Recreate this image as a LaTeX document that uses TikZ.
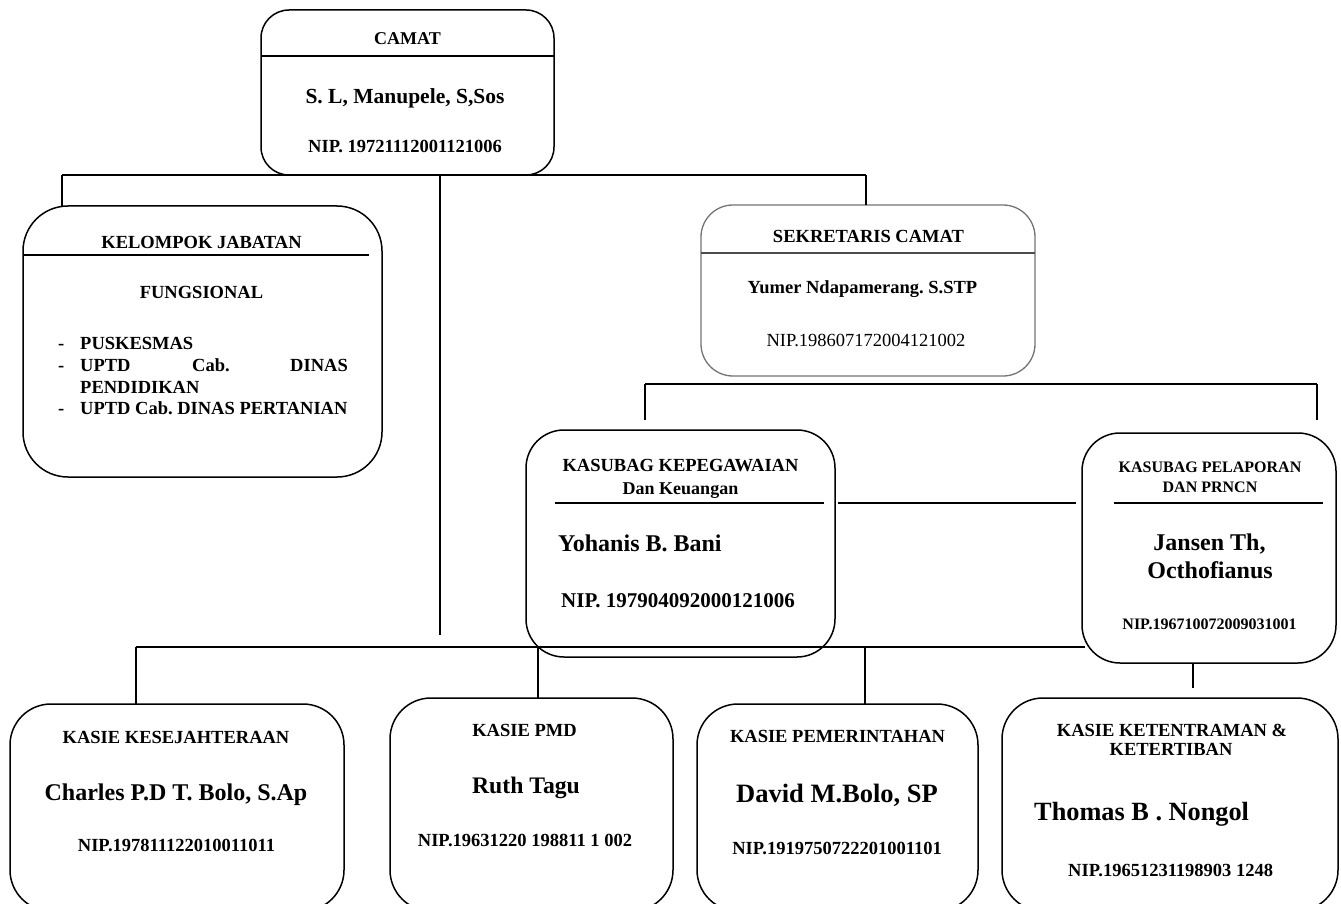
\documentclass[tikz,border=0pt]{standalone}
\usepackage{fontspec}
\setmainfont{Liberation Serif}
\newcommand{\myfs}[1]{\fontsize{#1}{#1}\selectfont}
\frenchspacing
\begin{document}
\begin{tikzpicture}[x=1pt,y=-1pt,
  box/.style={draw, line width=1.5pt, rounded corners=#1, anchor=north west, inner sep=0pt, outer sep=0pt},
  box/.default=35pt,
  greybox/.style={box=#1, draw=black!55, line width=1.3pt},
  greybox/.default=35pt,
  ln/.style={line width=1.4pt},
  t/.style={anchor=base, inner sep=0pt, font=\bfseries\myfs{#1}},
  t/.default=18.5,
  tw/.style={t=#1, anchor=base west},
  tw/.default=18.5,
  te/.style={t=#1, anchor=base east},
  te/.default=18.5,
  tr/.style={anchor=base, inner sep=0pt, font=\myfs{#1}},
  tr/.default=18.5
]
\useasboundingbox (0,0) rectangle (1341,904);

% ---------- boxes ----------
\node[box=28pt, minimum width=293pt, minimum height=165pt] (camat) at (261,10) {};
\node[box=45pt, minimum width=359pt, minimum height=271pt] (kelompok) at (23,206) {};
\node[greybox=32pt, minimum width=334pt, minimum height=171pt] (sekre) at (701,205) {};
\node[box=38pt, minimum width=309pt, minimum height=227pt] (kepeg) at (526,430) {};
\node[box=38pt, minimum width=254pt, minimum height=230pt] (pelap) at (1082,433) {};
\node[box=41pt, minimum width=334pt, minimum height=207pt] (kesej) at (10,704) {};
\node[box=41pt, minimum width=283pt, minimum height=213pt] (pmd) at (390,698) {};
\node[box=41pt, minimum width=281pt, minimum height=207pt] (pemer) at (697,704) {};
\node[box=41pt, minimum width=336pt, minimum height=213pt] (keten) at (1002,698) {};

% ---------- dividers ----------
\draw[ln] (261,56) -- (554,56);
\draw[ln] (23,255) -- (369,255);
\draw[line width=1.2pt, draw=black!70] (701,253) -- (1035,253);
\draw[ln] (555,503) -- (824,503);
\draw[ln] (1114,503) -- (1323,503);

% ---------- connectors ----------
\coordinate (ja) at (62,175);
\coordinate (jb) at (866,175);
\coordinate (jc) at (440,175);
\coordinate (jd) at (440,635);
\draw[ln] (ja) -- (jb);
\draw[ln] (ja) -- (ja |- kelompok.north);
\draw[ln] (jb) -- (jb |- sekre.north);
\draw[ln] (jc) -- (jd);

\coordinate (ka) at (645,384);
\coordinate (kb) at (1317,384);
\coordinate (kc) at (645,420);
\coordinate (kd) at (1317,420);
\draw[ln] (ka) -- (kb);
\draw[ln] (ka) -- (kc);
\draw[ln] (kb) -- (kd);

\coordinate (ma) at (838,503);
\coordinate (mb) at (1076,503);
\draw[ln] (ma) -- (mb);

\coordinate (ba) at (136,647);
\coordinate (bb) at (1085,647);
\coordinate (bpmd) at (538,647);
\coordinate (bpem) at (865,647);
\draw[ln] (ba) -- (bb);
\draw[ln] (ba) -- (ba |- kesej.north);
\draw[ln] (bpmd) -- (bpmd |- pmd.north);
\draw[ln] (bpem) -- (bpem |- pemer.north);
\coordinate (pa) at (1193,663);
\coordinate (pb) at (1193,688);
\draw[ln] (pa) -- (pb);

% ---------- texts ----------
\node[t=18] (camat-t) at (407.5,45) {CAMAT};
\node[t=21.5] (camat-n) at (405,104) {S. L, Manupele, S,Sos};
\node[t] (camat-nip) at (405,153) {NIP. 19721112001121006};

\node[t] (kel-t) at (201.5,248) {KELOMPOK JABATAN};
\node[t] (kel-f) at (201.5,298) {FUNGSIONAL};
\node[tw] (kel-d1) at (58,349) {-};
\node[tw] (kel-l1) at (80,349) {PUSKESMAS};
\node[tw] (kel-d2) at (58,371) {-};
\node[tw] (kel-l2a) at (80,371) {UPTD};
\node[tw] (kel-l2b) at (192,371) {Cab.};
\node[te] (kel-l2c) at (348,371) {DINAS};
\node[tw] (kel-l3) at (80,393) {PENDIDIKAN};
\node[tw] (kel-d4) at (58,414) {-};
\node[tw] (kel-l4) at (80,414) {UPTD Cab. DINAS PERTANIAN};

\node[t] (sek-t) at (868.5,243) {SEKRETARIS CAMAT};
\node[t] (sek-n) at (862.5,293) {Yumer Ndapamerang. S.STP};
\node[tr] (sek-nip) at (866,346) {NIP.198607172004121002};

\node[t] (kep-t1) at (680.5,471) {KASUBAG KEPEGAWAIAN};
\node[t=18] (kep-t2) at (680.5,494) {Dan Keuangan};
\node[tw=24] (kep-n) at (558,551) {Yohanis B. Bani};
\node[tw=21] (kep-nip) at (561,607) {NIP. 197904092000121006};

\node[t=16] (pel-t1) at (1210,472) {KASUBAG PELAPORAN};
\node[t=16] (pel-t2) at (1210,492) {DAN PRNCN};
\node[t=24] (pel-n1) at (1209.5,550) {Jansen Th,};
\node[t=24] (pel-n2) at (1210,578) {Octhofianus};
\node[t=16] (pel-nip) at (1209.5,629) {NIP.196710072009031001};

\node[t] (kes-t) at (176,743) {KASIE KESEJAHTERAAN};
\node[t=24] (kes-n) at (176,800) {Charles P.D T. Bolo, S.Ap};
\node[t] (kes-nip) at (176.5,851) {NIP.197811122010011011};

\node[t] (pmd-t) at (524.5,736) {KASIE PMD};
\node[t=23.7] (pmd-n) at (526,793) {Ruth Tagu};
\node[t] (pmd-nip) at (525,846) {NIP.19631220 198811 1 002};

\node[t] (pem-t) at (837.5,742) {KASIE PEMERINTAHAN};
\node[t=26.5] (pem-n) at (837,802) {David M.Bolo, SP};
\node[t] (pem-nip) at (837,854) {NIP.1919750722201001101};

\node[t] (ket-t1) at (1172,736) {KASIE KETENTRAMAN \&};
\node[t] (ket-t2) at (1171,755) {KETERTIBAN};
\node[tw=26.3] (ket-n) at (1034,820) {Thomas B . Nongol};
\node[tw] (ket-nip) at (1068,876) {NIP.19651231198903 1248};
\end{tikzpicture}
\end{document}
